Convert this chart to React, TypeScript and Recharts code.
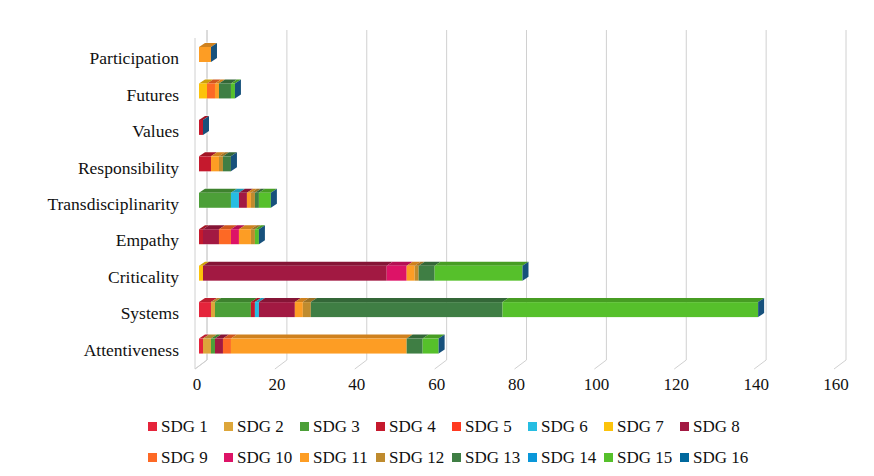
import React from "react"
import { BarChart, Bar, XAxis, YAxis, CartesianGrid, Legend } from "recharts"

// categories, top to bottom as drawn
const categories = [
  "Participation",
  "Futures",
  "Values",
  "Responsibility",
  "Transdisciplinarity",
  "Empathy",
  "Criticality",
  "Systems",
  "Attentiveness",
]

const sdgNames = [
  "SDG 1", "SDG 2", "SDG 3", "SDG 4", "SDG 5", "SDG 6", "SDG 7", "SDG 8",
  "SDG 9", "SDG 10", "SDG 11", "SDG 12", "SDG 13", "SDG 14", "SDG 15", "SDG 16",
]

const sdgColors = [
  "#E5243B", "#DDA63A", "#4C9F38", "#C5192D", "#FF3A21", "#26BDE2", "#FCC30B", "#A21942",
  "#FD6925", "#DD1367", "#FD9D24", "#BF8B2E", "#3F7E44", "#0A97D9", "#56C02B", "#00689D",
]

// values per SDG, same order as categories
const sdg1 = [0, 0, 0, 0, 0, 0, 0, 3, 1]
const sdg2 = [0, 0, 0, 0, 0, 0, 0, 1, 2]
const sdg3 = [0, 0, 0, 0, 8, 0, 0, 9, 1]
const sdg4 = [0, 0, 1, 3, 0, 1, 0, 1, 0]
const sdg5 = [0, 0, 0, 0, 0, 0, 0, 0, 0]
const sdg6 = [0, 0, 0, 0, 2, 0, 0, 1, 0]
const sdg7 = [0, 2, 0, 0, 0, 0, 1, 0, 0]
const sdg8 = [0, 0, 0, 0, 2, 4, 46, 9, 2]
const sdg9 = [0, 2, 0, 0, 0, 3, 0, 0, 2]
const sdg10 = [0, 0, 0, 0, 0, 2, 5, 0, 0]
const sdg11 = [3, 1, 0, 2, 1, 3, 2, 2, 44]
const sdg12 = [0, 0, 0, 1, 1, 1, 1, 2, 0]
const sdg13 = [0, 3, 0, 2, 1, 0, 4, 48, 4]
const sdg14 = [0, 0, 0, 0, 0, 0, 0, 0, 0]
const sdg15 = [0, 1, 0, 0, 3, 1, 22, 64, 4]
const sdg16 = [0, 0, 0, 0, 0, 0, 0, 0, 0]

const seriesValues = [
  sdg1, sdg2, sdg3, sdg4, sdg5, sdg6, sdg7, sdg8,
  sdg9, sdg10, sdg11, sdg12, sdg13, sdg14, sdg15, sdg16,
]

const xTicks = [0, 20, 40, 60, 80, 100, 120, 140, 160]

const rows = categories.map((name, i) => {
  const row: Record<string, string | number> = { name }
  seriesValues.forEach((vals, s) => {
    row[`s${s}`] = vals[i]
  })
  return row
})

const FONT = '"Liberation Serif", Tinos, "Times New Roman", Times, serif'
const W = 874
const H = 476
const MARGIN = { top: 36, right: 36, left: 0, bottom: 3 }
const Y_AXIS_W = 199
const X_AXIS_H = 39
const LEGEND_H = 70
const TICK_GAP = 20
const PLOT_H = H - MARGIN.top - MARGIN.bottom - X_AXIS_H - LEGEND_H
const BAR_SIZE = 15
const DX = 6
const DY = 4
const capColor = "#17517c"
const gridColor = "#d0d0d0"

function shade(hex: string, f: number) {
  const n = parseInt(hex.slice(1), 16)
  const r = Math.round(((n >> 16) & 255) * f)
  const g = Math.round(((n >> 8) & 255) * f)
  const b = Math.round((n & 255) * f)
  return `rgb(${r},${g},${b})`
}

const makeShape = (s: number) => (props: any) => {
  const { x, y, width, height, payload } = props
  if (!width || width <= 0) return <g />
  const color = sdgColors[s]
  let isLast = true
  for (let k = s + 1; k < seriesValues.length; k++) {
    if (payload && Number(payload[`s${k}`]) > 0) isLast = false
  }
  const r = x + width
  return (
    <g>
      <polygon
        points={`${x},${y} ${x + DX},${y - DY} ${r + DX},${y - DY} ${r},${y}`}
        fill={shade(color, 0.82)}
      />
      <rect x={x} y={y} width={width} height={height} fill={color} />
      {isLast && (
        <polygon
          points={`${r},${y} ${r + DX},${y - DY} ${r + DX},${y + height - DY} ${r},${y + height}`}
          fill={capColor}
        />
      )}
    </g>
  )
}

// back wall gridline + floor diagonal
const renderGridLine = (props: any) => {
  const { x1, y1, y2, index } = props
  const top = Math.min(y1, y2)
  const bottom = Math.max(y1, y2)
  return (
    <g key={`g-${index}-${x1}`}>
      <line x1={x1 + 8} y1={top - 6} x2={x1 + 8} y2={bottom - 4} stroke={gridColor} strokeWidth={1} />
      <line x1={x1 - 4} y1={bottom + 5} x2={x1 + 8} y2={bottom - 4} stroke={gridColor} strokeWidth={1} />
    </g>
  )
}

// x tick label; the 0 tick also carries the left wall edges.
// The back edge is split so it stays behind the bars.
const renderXTick = (p: any) => {
  const v = p.payload.value
  const bottom = p.y - TICK_GAP
  const top = bottom - PLOT_H
  const band = PLOT_H / categories.length
  const segs: [number, number][] = []
  let from = top - 6
  categories.forEach((_, i) => {
    const c = top + band * (i + 0.5)
    segs.push([from, c - BAR_SIZE / 2 - DY - 1])
    from = c + BAR_SIZE / 2 + 1
  })
  segs.push([from, bottom - 4])
  return (
    <g>
      {v === 0 && (
        <g>
          <line x1={p.x - 4} y1={top + 2} x2={p.x - 4} y2={bottom + 5} stroke={gridColor} strokeWidth={1} />
          {segs.map(([a, b], i) => (
            <line key={i} x1={p.x + 8} y1={a} x2={p.x + 8} y2={b} stroke={gridColor} strokeWidth={1} />
          ))}
          <line x1={p.x - 4} y1={bottom + 5} x2={p.x + 8} y2={bottom - 4} stroke={gridColor} strokeWidth={1} />
        </g>
      )}
      <text x={p.x - 2} y={p.y} textAnchor="middle" dominantBaseline="central" fontSize={17} fill="#111" fontFamily={FONT}>
        {v}
      </text>
    </g>
  )
}

const renderLegend = () => (
  <div style={{ height: LEGEND_H, paddingTop: 8, paddingLeft: 30, boxSizing: "border-box", fontFamily: FONT }}>
    {[0, 8].map((start) => (
      <div key={start} style={{ display: "flex", justifyContent: "center", alignItems: "center", height: 31 }}>
        {sdgNames.slice(start, start + 8).map((n, k) => (
          <div key={n} style={{ width: 76, display: "flex", alignItems: "center", whiteSpace: "nowrap" }}>
            <span
              style={{
                display: "inline-block",
                width: 9,
                height: 9,
                background: sdgColors[start + k],
                marginRight: 4,
              }}
            />
            <span style={{ fontSize: 17, color: "#111" }}>{n}</span>
          </div>
        ))}
      </div>
    ))}
  </div>
)

export default function App() {
  return (
    <div style={{ position: "absolute", left: 0, top: 0, width: W, height: H, background: "#fff", fontFamily: FONT }}>
      <BarChart width={W} height={H} layout="vertical" data={rows} margin={MARGIN} barCategoryGap={0}>
        <CartesianGrid horizontal={false} vertical={renderGridLine} />
        <XAxis
          type="number"
          domain={[0, 160]}
          ticks={xTicks}
          tickLine={false}
          axisLine={false}
          tickSize={0}
          tickMargin={TICK_GAP}
          height={X_AXIS_H}
          interval={0}
          tick={renderXTick}
        />
        <YAxis
          type="category"
          dataKey="name"
          width={Y_AXIS_W}
          tickLine={false}
          axisLine={false}
          tickSize={0}
          tickMargin={20}
          interval={0}
          tick={(p: any) => (
            <text x={p.x} y={p.y + 4} textAnchor="end" dominantBaseline="central" fontSize={17.5} fill="#111" fontFamily={FONT}>
              {p.payload.value}
            </text>
          )}
        />
        <Legend verticalAlign="bottom" width={W} wrapperStyle={{ left: 0 }} content={renderLegend} />
        {sdgNames.map((n, s) => (
          <Bar
            key={n}
            dataKey={`s${s}`}
            name={n}
            stackId="a"
            barSize={BAR_SIZE}
            fill={sdgColors[s]}
            shape={makeShape(s)}
            isAnimationActive={false}
          />
        ))}
      </BarChart>
    </div>
  )
}
